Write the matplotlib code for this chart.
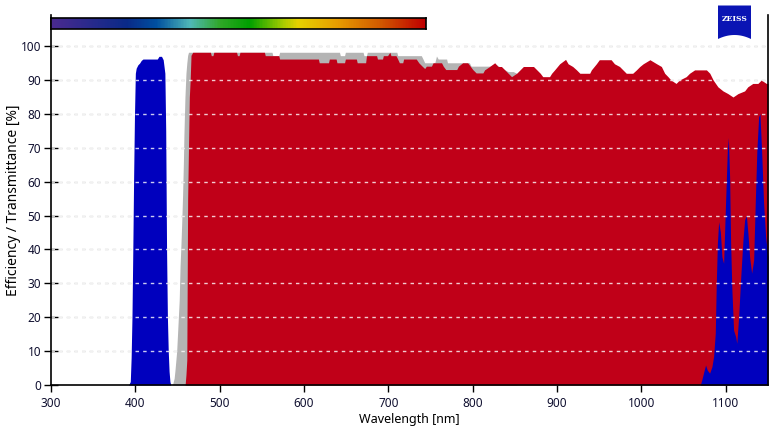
import numpy as np
import matplotlib
matplotlib.use('Agg')
import matplotlib.pyplot as plt
from matplotlib.colors import LinearSegmentedColormap
from matplotlib.patches import Polygon

plt.rcParams['font.family'] = ['Noto Sans', 'DejaVu Sans']

# excitation filter (blue)
blue_wl = [392, 394, 395, 396, 397, 398, 399, 400, 401, 403, 405, 407, 409, 426, 428, 431, 433, 434,
           435, 436, 437, 438, 439, 440, 441, 442,
           1069.8, 1072, 1074, 1076, 1078, 1080.8, 1083.5, 1085.5, 1087.5, 1088.7, 1090, 1091.5, 1093.5,
           1095.4, 1097.4, 1099.4, 1101.8, 1103, 1104.5, 1105.7, 1107.2, 1109.2, 1111.6, 1113, 1115.2,
           1117.5, 1120.3, 1122.3, 1124.3, 1126.2, 1128.2, 1130.6, 1133, 1135, 1136.8, 1138.9, 1140.4,
           1142.4, 1144.8, 1147.2, 1150]
blue_t = [0, 1, 8, 20, 40, 62, 80, 92, 93.5, 94.5, 95, 95.8, 96.2, 96.2, 97, 97, 96, 94,
          92, 75, 40, 20, 10, 4, 1, 0,
          0, 2, 4, 5.9, 4.4, 3.5, 5.4, 8.4, 15.3, 30, 41.8, 48.2, 45.2,
          37.8, 35.9, 51.6, 69.3, 73, 61.4, 41.8, 28, 16.2, 14.3, 12.3, 20.1,
          31, 42.8, 48.7, 50.1, 44.8, 37.8, 33, 36.9, 54.6, 69.3, 79.1, 80.1,
          69.3, 53.6, 43.7, 37.8]

# dichroic (gray)
gray_wl = [444, 446, 447, 449, 451, 452, 453, 454, 455, 456, 457, 457.6, 458.8, 460, 461, 462, 463,
           562, 563, 570, 571, 642, 643, 648, 649, 670, 671, 674, 675, 710, 711, 739, 741, 743,
           755, 757, 759, 769, 770, 796, 798, 820, 826, 838, 842, 848, 852]
gray_t = [0, 2, 4.4, 10, 20, 25, 35, 41, 48, 56, 66, 74, 85, 92, 95, 97.3, 98.2,
          98.2, 97.2, 97.2, 98.2, 98.2, 97.2, 97.2, 98.2, 98.2, 97.2, 97.2, 98.2, 98.2, 97.2, 97.2, 96.2, 95.1,
          95.1, 97.1, 96.2, 96.2, 95.1, 95.1, 94.1, 94.1, 94.8, 93, 92.5, 92.5, 92]

# emission filter (red)
red_wl = [459, 460, 461, 462, 464, 465, 466, 468, 489, 490, 492, 493, 520, 521, 523, 524, 553, 554,
          570, 571, 617, 618, 629, 630, 638, 639, 648, 649, 662, 663, 673, 674, 686, 687, 693, 694,
          699, 701.7, 703, 709, 711, 713, 717, 718, 733, 736, 740, 743, 745, 751, 753, 763, 765, 768,
          781, 783, 788, 794, 797, 800, 804, 812, 814, 820, 826, 830, 834, 838, 842, 846, 852, 856,
          860, 872, 876, 880, 883, 891, 893.5, 897, 903, 910, 913, 918.5, 923, 927, 938.6, 940.6,
          946.5, 950, 964, 968, 974, 978, 982, 989.6, 994, 998, 1002, 1010, 1018, 1023.6, 1027.5,
          1031.4, 1035, 1041, 1045, 1053, 1057, 1063, 1077, 1081, 1085, 1090.6, 1096.6, 1102.5,
          1108.5, 1114.4, 1122.3, 1126, 1132, 1138, 1142, 1148, 1150]
red_t = [0, 3, 7.4, 55, 85, 90, 97.3, 98.2, 98.2, 97.2, 97.2, 98.2, 98.2, 97.2, 97.2, 98.2, 98.2, 97.2,
         97.2, 96.2, 96.2, 95.1, 95.1, 96.2, 96.2, 95.1, 95.1, 96.2, 96.2, 95.1, 95.1, 97.2, 97.2, 96.2, 96.2, 97.2,
         97.2, 98.2, 97.2, 97.2, 96.2, 95.1, 95.1, 96.2, 96.2, 95.1, 94.1, 93.4, 94.1, 94.1, 95.1, 95.1, 94.1, 93.1,
         93.1, 94.1, 95.1, 95.1, 94.1, 93.1, 92.1, 92.1, 93, 94, 95.1, 94, 94, 93, 92, 91, 92, 93,
         94, 94, 93, 92, 91, 91, 92, 93, 94.8, 96.1, 94.8, 94, 93, 92, 92, 93,
         94.8, 96, 96, 94.8, 94, 93, 92, 92, 93, 94, 94.8, 96, 94.8, 94, 92,
         91, 90, 89, 90, 91, 92, 93, 93, 92, 90, 88, 86.8, 86,
         85, 86, 86.8, 88, 89, 89, 90, 89, 89]

yticks = list(range(0, 101, 10))
xticks = list(range(300, 1101, 100))

spectrum = ['#4a2a90', '#0a2a88', '#0050a0', '#50b8b8', '#30a828', '#00a000',
            '#a8cc00', '#e6d200', '#e8a000', '#d25a00', '#c00000']
spectrum_pos = [0, 0.2, 0.28, 0.37, 0.45, 0.53, 0.62, 0.66, 0.76, 0.88, 1.0]

W, H = 783, 426
fig = plt.figure(figsize=(W / 100, H / 100), dpi=100)
ax = fig.add_axes([51 / W, 1 - 385 / H, (768 - 51) / W, 370 / H])

# grid under the fills (visible on white)
for y in yticks[1:]:
    ax.axhline(y, color='#bcbcbc', lw=1.0, ls=(0, (2.5, 3)), zorder=0)

ax.fill_between(gray_wl, gray_t, 0, color='#b4b4b4', lw=0, zorder=1)
ax.fill_between(red_wl, red_t, 0, color='#c00018', lw=0, zorder=2)
ax.fill_between(blue_wl, blue_t, 0, color='#0000be', lw=0, zorder=3)

# grid over the fills (light on coloured areas)
for y in yticks[1:]:
    ax.axhline(y, color='white', alpha=0.8, lw=1.0, ls=(0, (2.5, 3)), zorder=4)

ax.set_xlim(300, 1150)
ax.set_ylim(0, 109.2)
ax.set_xticks(xticks)
ax.set_yticks(yticks)
ax.spines['top'].set_visible(False)
for s in ['left', 'right', 'bottom']:
    ax.spines[s].set_linewidth(1.2)
    ax.spines[s].set_zorder(6)
ax.tick_params(axis='y', direction='inout', length=10, width=1, labelsize=8.5, colors='black',
               labelcolor='#101030', pad=2)
ax.tick_params(axis='x', direction='out', length=5, width=1, labelsize=8.5, colors='black',
               labelcolor='#101030')
ax.set_xlabel('Wavelength [nm]', fontsize=9, labelpad=2)
ax.set_ylabel('Efficiency / Transmittance [%]', fontsize=10)
ax.yaxis.set_label_coords((21 - 51) / (768 - 51), 0.5)

# spectrum bar
cax = fig.add_axes([51 / W, 1 - 29.3 / H, 375 / W, 11 / H])
cmap = LinearSegmentedColormap.from_list('spec', list(zip(spectrum_pos, spectrum)))
cax.imshow(np.linspace(0, 1, 400)[None, :], aspect='auto', cmap=cmap)
cax.set_xticks([])
cax.set_yticks([])
for s in cax.spines.values():
    s.set_linewidth(1.2)

# logo
xs = np.linspace(718, 751, 30)
bottom = 35 + 4 * ((xs - 734.5) / 16.5) ** 2
pts = [(718, 5.5), (751, 5.5)] + [(x, b) for x, b in zip(xs[::-1], bottom[::-1])]
logo = Polygon([(x / W, 1 - y / H) for x, y in pts], closed=True, transform=fig.transFigure,
               facecolor='#0a14b4', edgecolor='none')
fig.patches.append(logo)
fig.text(734.5 / W, 1 - 19 / H, 'ZEISS', color='white', fontsize=5.5, fontweight='bold',
         family='DejaVu Serif', ha='center', va='center')

fig.savefig('out.png', dpi=100)
